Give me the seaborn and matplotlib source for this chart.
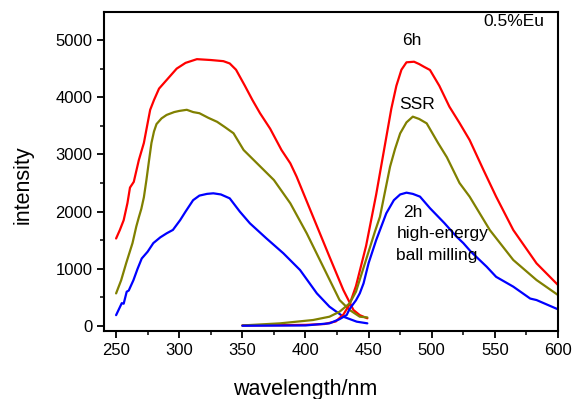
import numpy as np
import pandas as pd
import seaborn as sns
import matplotlib.pyplot as plt
from matplotlib.ticker import MultipleLocator

# excitation spectra (left peaks)
ex_x_6h = [250, 253, 256, 259, 261, 264, 268, 272, 275, 277, 280, 284, 290, 298, 305, 314,
           325, 335, 340, 345, 352, 358, 364, 372, 381, 388, 393, 406, 419, 430, 438, 443, 449]
ex_y_6h = [1530, 1680, 1850, 2150, 2420, 2520, 2900, 3200, 3550, 3780, 3950, 4150, 4300, 4500,
           4600, 4665, 4650, 4630, 4590, 4480, 4200, 3950, 3720, 3450, 3077, 2844, 2610, 1911,
           1212, 629, 280, 190, 135]

ex_x_ssr = [250, 254, 258, 263, 266, 268, 270, 272, 274, 276, 278, 280, 282, 286, 290, 296, 300,
            306, 311, 316, 323, 330, 336, 343, 351, 360, 367, 375, 388, 401, 414, 427, 435, 443, 449]
ex_y_ssr = [570, 800, 1100, 1450, 1740, 1900, 2050, 2250, 2550, 2880, 3200, 3400, 3530, 3630,
            3690, 3740, 3760, 3780, 3740, 3720, 3640, 3570, 3480, 3370, 3077, 2880, 2727, 2552,
            2145, 1620, 1037, 454, 280, 163, 150]

ex_x_2h = [250, 254.5, 256, 258.4, 260, 263.7, 267, 270.3, 275, 279.5, 285, 290, 295, 300.7, 305,
           311, 316, 322, 327, 333, 340, 348, 356, 369, 382.5, 395.7, 409, 419, 430, 440.6, 449]
ex_y_2h = [190, 400, 390, 600, 620, 800, 1000, 1180, 1300, 1450, 1550, 1620, 1680, 1850, 2000,
           2200, 2280, 2310, 2320, 2300, 2232, 2000, 1795, 1533, 1271, 979, 571, 338, 163, 76, 47]

# emission spectra (right peaks)
em_x_6h = [350, 380, 400, 415, 424, 430, 435, 440, 444, 448, 452, 456, 460, 464, 468, 472, 476,
           480, 486, 490, 494, 498.6, 506, 514, 522, 530, 541, 551, 564.6, 583, 600]
em_y_6h = [10, 15, 20, 35, 80, 200, 380, 700, 1050, 1400, 1850, 2300, 2800, 3300, 3800, 4200,
           4480, 4610, 4620, 4580, 4530, 4476, 4200, 3834, 3550, 3252, 2727, 2262, 1678, 1096, 717]

em_x_ssr = [350, 380, 406, 419, 427, 435, 440, 445, 450, 455, 459, 463, 467, 471, 475, 480, 485,
            490, 496, 505, 512, 522, 530, 546, 564.6, 583, 600]
em_y_ssr = [10, 47, 105, 163, 250, 397, 600, 950, 1300, 1650, 1911, 2350, 2786, 3100, 3368, 3560,
            3660, 3620, 3543, 3200, 2950, 2500, 2262, 1678, 1154, 804, 542]

em_x_2h = [350, 400, 419, 427, 432.6, 435, 440, 443, 446, 450, 456, 464, 470, 475, 480, 485,
           490.7, 498.6, 510, 519.7, 525, 531, 543.5, 551, 564.6, 578, 583, 600]
em_y_2h = [5, 10, 47, 120, 192, 300, 450, 571, 746, 1100, 1503, 1970, 2200, 2300, 2331, 2310,
           2262, 2060, 1800, 1561, 1450, 1300, 1037, 860, 688, 480, 454, 292]

colors = {'6h': '#ff0000', 'SSR': '#808000', '2h': '#0000ff'}

parts = []
for name, x, y, kind in [('6h', ex_x_6h, ex_y_6h, 'ex'), ('SSR', ex_x_ssr, ex_y_ssr, 'ex'),
                         ('2h', ex_x_2h, ex_y_2h, 'ex'), ('6h', em_x_6h, em_y_6h, 'em'),
                         ('SSR', em_x_ssr, em_y_ssr, 'em'), ('2h', em_x_2h, em_y_2h, 'em')]:
    parts.append(pd.DataFrame({'wavelength': x, 'intensity': y, 'sample': name, 'curve': name + kind}))
df = pd.concat(parts, ignore_index=True)

sns.set_style('ticks')
plt.rcParams['font.family'] = ['Liberation Sans', 'DejaVu Sans']
plt.rcParams['text.color'] = 'black'
plt.rcParams['axes.labelcolor'] = 'black'

fig = plt.figure(figsize=(5.72, 3.99), dpi=100)
ax = fig.add_axes([0.182, 0.170, 0.7935, 0.800])

for curve, sub in df.groupby('curve', sort=False):
    sns.lineplot(data=sub, x='wavelength', y='intensity', color=colors[sub['sample'].iloc[0]],
                 lw=1.6, ax=ax, legend=False, sort=False)

ax.set_xlim(240.5, 600)
ax.set_ylim(-90, 5490)
ax.xaxis.set_major_locator(MultipleLocator(50))
ax.xaxis.set_minor_locator(MultipleLocator(25))
ax.yaxis.set_major_locator(MultipleLocator(1000))
ax.yaxis.set_minor_locator(MultipleLocator(500))
ax.tick_params(which='major', direction='out', length=5, width=1.3, labelsize=12,
               colors='black', labelcolor='black')
ax.tick_params(which='minor', direction='out', length=3, width=1.1, colors='black')
for s in ax.spines.values():
    s.set_visible(True)
    s.set_linewidth(1.5)
    s.set_color('black')

ax.set_xlabel('wavelength/nm', fontsize=15.5)
ax.set_ylabel('intensity', fontsize=15.5)
ax.xaxis.set_label_coords(0.443, -0.15)
ax.yaxis.set_label_coords(-0.155, 0.46)

ax.text(541, 5315, '0.5%Eu', fontsize=12.5, va='center', ha='left')
ax.text(484, 5000, '6h', fontsize=12.5, va='center', ha='center')
ax.text(488, 3864, 'SSR', fontsize=12.5, va='center', ha='center')
ax.text(485, 1993, '2h', fontsize=12.5, va='center', ha='center')
ax.text(472, 1626, 'high-energy', fontsize=12.5, va='center', ha='left')
ax.text(472, 1241, 'ball milling', fontsize=12.5, va='center', ha='left')

fig.savefig('out.png', dpi=100)
